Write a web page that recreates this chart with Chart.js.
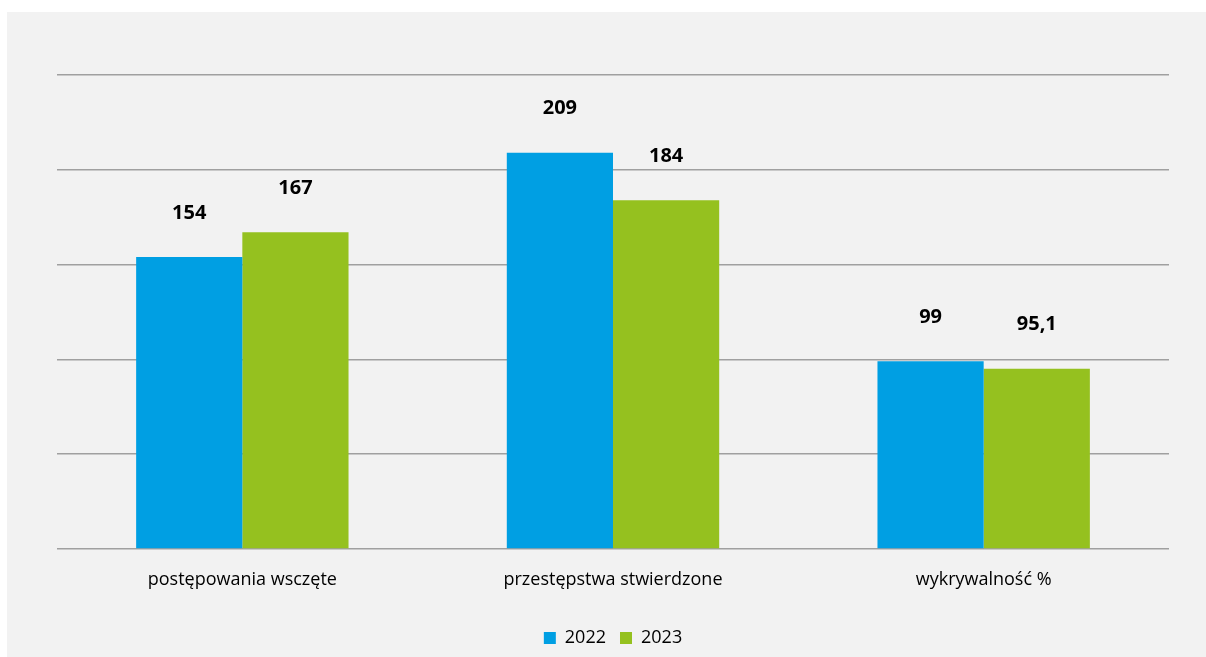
<!DOCTYPE html>
<html>
<head>
<meta charset="utf-8">
<script src="https://cdn.jsdelivr.net/npm/chart.js@4"></script>
<style>
  html, body { margin: 0; padding: 0; background: #fff; }
  .frame { position: absolute; left: 7px; top: 12px; width: 1199px; height: 645px; background: #f2f2f2; }
</style>
</head>
<body>
<div class="frame"><canvas id="chart" width="1199" height="645"></canvas></div>
<script>
const categories = ["postępowania wsczęte", "przestępstwa stwierdzone", "wykrywalność %"];
const series2022 = [154, 209, 99];
const series2023 = [167, 184, 95.1];

// value labels floating well above each bar, like the original
const valueLabels = {
  id: "valueLabels",
  afterDatasetsDraw(chart) {
    const { ctx } = chart;
    ctx.save();
    ctx.font = "bold 20px 'Open Sans'";
    ctx.fillStyle = "#000";
    ctx.textAlign = "center";
    ctx.textBaseline = "middle";
    chart.data.datasets.forEach((ds, i) => {
      chart.getDatasetMeta(i).data.forEach((bar, j) => {
        const text = String(ds.data[j]).replace(".", ",");
        ctx.fillText(text, bar.x, bar.y - 44);
      });
    });
    ctx.restore();
  }
};

Chart.defaults.font.family = "'Open Sans', sans-serif";
Chart.defaults.color = "#262626";

new Chart(document.getElementById("chart"), {
  type: "bar",
  data: {
    labels: categories,
    datasets: [
      { label: "2022", data: series2022, backgroundColor: "#009fe3" },
      { label: "2023", data: series2023, backgroundColor: "#95c11f" }
    ]
  },
  options: {
    responsive: false,
    animation: false,
    categoryPercentage: 0.573,
    barPercentage: 1,
    layout: { padding: { left: 50, right: 37, top: 63, bottom: 0 } },
    plugins: {
      legend: {
        position: "bottom",
        labels: { boxWidth: 12, boxHeight: 12, padding: 14, font: { size: 18 }, color: "#000" }
      },
      tooltip: { enabled: false }
    },
    scales: {
      x: {
        grid: { display: false },
        border: { display: false },
        ticks: { padding: 12, font: { size: 18 }, color: "#000" },
        afterFit: (scale) => { scale.height = 66; }
      },
      y: {
        min: 0,
        max: 250,
        ticks: { stepSize: 50, display: false },
        grid: { color: "#a0a0a0", lineWidth: 1.5, drawTicks: false },
        border: { display: false },
        afterFit: (scale) => { scale.width = 0; }
      }
    }
  },
  plugins: [valueLabels]
});
</script>
</body>
</html>
